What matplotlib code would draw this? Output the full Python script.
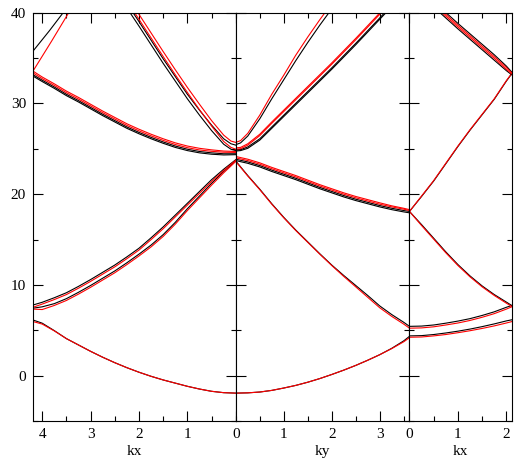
import matplotlib
matplotlib.use("Agg")
import matplotlib.pyplot as plt
from matplotlib.ticker import MultipleLocator

plt.rcParams['font.family'] = ['Liberation Serif', 'DejaVu Serif']

# ---------------- left panel: kx, drawn from 4.19 (left) to 0 (Gamma) ----------------
kx_left = [0, 0.25, 0.5, 0.75, 1.0, 1.25, 1.5, 1.75, 2.0, 2.25, 2.5, 2.75, 3.0, 3.25, 3.5, 3.75, 4.0, 4.19]

left_low_black = [-1.9, -1.85, -1.7, -1.45, -1.15, -0.8, -0.45, -0.05, 0.4, 0.9, 1.45, 2.05, 2.7, 3.4, 4.1, 4.98, 5.8, 6.15]
left_low_red = [-1.9, -1.85, -1.7, -1.45, -1.15, -0.8, -0.45, -0.05, 0.4, 0.9, 1.45, 2.05, 2.7, 3.4, 4.1, 4.95, 5.7, 5.98]

left_a_black = [23.8, 22.75, 21.6, 20.3, 19.0, 17.7, 16.4, 15.2, 14.05, 13.1, 12.2, 11.4, 10.6, 9.85, 9.15, 8.6, 8.1, 7.8]
left_a_red = [23.75, 22.6, 21.4, 20.1, 18.8, 17.5, 16.2, 15.0, 13.85, 12.9, 12.0, 11.2, 10.4, 9.65, 8.95, 8.4, 7.9, 7.55]
left_b_black = [23.7, 22.5, 21.2, 19.8, 18.4, 16.9, 15.55, 14.4, 13.4, 12.45, 11.55, 10.75, 9.95, 9.2, 8.5, 7.95, 7.6, 7.45]
left_b_red = [23.6, 22.35, 21.0, 19.6, 18.2, 16.7, 15.35, 14.2, 13.2, 12.25, 11.35, 10.55, 9.75, 9.0, 8.3, 7.75, 7.3, 7.35]

left_c_red1 = [24.7, 24.75, 24.88, 25.05, 25.3, 25.65, 26.1, 26.6, 27.15, 27.75, 28.45, 29.15, 29.9, 30.65, 31.35, 32.15, 32.9, 33.55]
left_c_red2 = [24.6, 24.62, 24.72, 24.87, 25.12, 25.47, 25.92, 26.42, 26.97, 27.57, 28.27, 28.97, 29.72, 30.47, 31.17, 31.97, 32.72, 33.35]
left_c_black1 = [24.45, 24.45, 24.55, 24.7, 24.95, 25.3, 25.75, 26.25, 26.8, 27.4, 28.1, 28.8, 29.55, 30.3, 31.0, 31.8, 32.55, 33.15]
left_c_black2 = [24.35, 24.32, 24.4, 24.55, 24.8, 25.15, 25.6, 26.1, 26.65, 27.25, 27.95, 28.65, 29.4, 30.15, 30.85, 31.65, 32.4, 33.0]

kx_left_up = [0, 0.1, 0.25, 0.5, 0.75, 1.0, 1.25, 1.5, 1.75, 2.0, 2.25]
left_up_red1 = [25.7, 25.85, 26.5, 28.1, 29.9, 31.75, 33.7, 35.7, 37.75, 39.8, 41.8]
left_up_black1 = [25.4, 25.55, 26.1, 27.6, 29.25, 31.0, 32.95, 34.9, 36.95, 39.0, 41.0]
left_up_red2 = [24.95, 25.15, 25.8, 27.5, 29.3, 31.2, 33.15, 35.15, 37.2, 39.25, 41.3]
left_up_black2 = [24.8, 24.95, 25.5, 27.0, 28.7, 30.5, 32.45, 34.4, 36.45, 38.5, 40.5]

kx_edge_red = [4.19, 3.8, 3.45]
edge_red = [33.55, 36.9, 40.0]
kx_edge_black = [4.19, 3.85, 3.55]
edge_black = [35.75, 38.0, 40.1]

# ---------------- middle panel: ky from 0 (Gamma) to 3.62 ----------------
ky_mid = [0, 0.25, 0.5, 0.75, 1.0, 1.25, 1.5, 1.75, 2.0, 2.25, 2.5, 2.75, 3.0, 3.25, 3.5, 3.62]

mid_low_black = [-1.9, -1.87, -1.78, -1.6, -1.34, -1.05, -0.7, -0.3, 0.15, 0.63, 1.15, 1.72, 2.33, 3.03, 3.85, 4.35]
mid_low_red = [-1.9, -1.87, -1.78, -1.6, -1.34, -1.05, -0.7, -0.3, 0.15, 0.63, 1.15, 1.72, 2.33, 3.0, 3.75, 4.2]

mid_down_black = [23.65, 22.05, 20.55, 18.95, 17.45, 16.05, 14.75, 13.45, 12.2, 11.05, 9.95, 8.85, 7.7, 6.75, 5.9, 5.45]
mid_down_red = [23.6, 22.0, 20.5, 18.9, 17.4, 16.0, 14.7, 13.4, 12.15, 10.95, 9.8, 8.65, 7.5, 6.55, 5.7, 5.25]

mid_c_red1 = [24.15, 23.85, 23.45, 22.95, 22.5, 22.05, 21.55, 21.05, 20.6, 20.15, 19.75, 19.4, 19.05, 18.72, 18.45, 18.3]
mid_c_red2 = [24.0, 23.7, 23.3, 22.8, 22.35, 21.9, 21.4, 20.9, 20.45, 20.0, 19.6, 19.25, 18.9, 18.6, 18.35, 18.2]
mid_c_black1 = [23.85, 23.55, 23.15, 22.65, 22.2, 21.75, 21.25, 20.75, 20.3, 19.85, 19.45, 19.1, 18.75, 18.45, 18.2, 18.1]
mid_c_black2 = [23.7, 23.4, 23.0, 22.5, 22.05, 21.6, 21.1, 20.6, 20.15, 19.7, 19.3, 18.95, 18.6, 18.3, 18.05, 17.95]

ky_steep = [0, 0.1, 0.25, 0.5, 0.75, 1.0, 1.25, 1.5, 1.75, 2.0]
mid_steep_red = [25.7, 25.9, 26.7, 28.7, 31.0, 33.1, 35.3, 37.3, 39.2, 41.0]
mid_steep_black = [25.45, 25.65, 26.4, 28.3, 30.5, 32.6, 34.7, 36.7, 38.6, 40.4]

ky_up = [0, 0.1, 0.25, 0.5, 0.75, 1.0, 1.25, 1.5, 1.75, 2.0, 2.25, 2.5, 2.75, 3.0, 3.25]
mid_up_red1 = [25.1, 25.15, 25.55, 26.6, 27.95, 29.25, 30.55, 31.85, 33.15, 34.45, 35.8, 37.15, 38.55, 39.95, 41.35]
mid_up_red2 = [24.95, 25.0, 25.4, 26.45, 27.8, 29.1, 30.4, 31.7, 33.0, 34.3, 35.65, 37.0, 38.4, 39.8, 41.2]
mid_up_black1 = [24.85, 24.9, 25.2, 26.1, 27.4, 28.7, 30.0, 31.3, 32.6, 33.9, 35.25, 36.6, 38.0, 39.4, 40.8]
mid_up_black2 = [24.75, 24.8, 25.05, 25.95, 27.25, 28.55, 29.85, 31.15, 32.45, 33.75, 35.1, 36.45, 37.85, 39.25, 40.65]

# ---------------- right panel: kx from 0 to 2.11 ----------------
kx_right = [0, 0.25, 0.5, 0.75, 1.0, 1.25, 1.5, 1.75, 2.0, 2.11]

right_low_black = [4.4, 4.43, 4.55, 4.72, 4.92, 5.15, 5.42, 5.72, 6.05, 6.17]
right_low_red = [4.25, 4.28, 4.4, 4.55, 4.75, 4.97, 5.22, 5.5, 5.82, 5.97]
right_mid_black = [5.45, 5.48, 5.6, 5.8, 6.03, 6.3, 6.65, 7.05, 7.55, 7.75]
right_mid_red = [5.25, 5.28, 5.4, 5.6, 5.82, 6.1, 6.45, 6.85, 7.35, 7.6]
right_down_black = [18.1, 16.65, 15.15, 13.65, 12.25, 11.0, 9.9, 8.95, 8.12, 7.75]
right_down_red = [18.1, 16.55, 15.05, 13.55, 12.15, 10.9, 9.8, 8.85, 8.0, 7.65]
right_up_black = [18.1, 19.75, 21.45, 23.35, 25.25, 27.05, 28.75, 30.45, 32.45, 33.25]
right_up_red = [18.1, 19.8, 21.5, 23.4, 25.3, 27.1, 28.8, 30.5, 32.5, 33.3]

kx_right_top = [0.5, 0.75, 1.0, 1.25, 1.5, 1.75, 2.0, 2.11]
right_top_black1 = [40.6, 39.4, 38.2, 37.05, 35.9, 34.75, 33.6, 33.15]
right_top_red1 = [40.8, 39.6, 38.4, 37.25, 36.1, 34.95, 33.75, 33.25]
right_top_red2 = [41.0, 39.8, 38.6, 37.45, 36.3, 35.15, 33.95, 33.35]
right_top_black2 = [41.2, 40.0, 38.8, 37.65, 36.5, 35.35, 34.1, 33.45]

fig = plt.figure(figsize=(5.23, 4.67), dpi=100)
gs = fig.add_gridspec(1, 3, width_ratios=[202.7, 173.6, 102.2], wspace=0,
                      left=0.0631, right=0.9784, bottom=0.0979, top=0.9732)
ax1 = fig.add_subplot(gs[0])
ax2 = fig.add_subplot(gs[1], sharey=ax1)
ax3 = fig.add_subplot(gs[2], sharey=ax1)

lw = 0.8
k, r = 'black', 'red'

# black first, red drawn over it
for y in [left_low_black, left_a_black, left_b_black, left_c_black1, left_c_black2]:
    ax1.plot(kx_left, y, color=k, lw=lw)
for y in [left_low_red, left_a_red, left_b_red, left_c_red1, left_c_red2]:
    ax1.plot(kx_left, y, color=r, lw=lw)
ax1.plot(kx_left_up, left_up_black1, color=k, lw=lw)
ax1.plot(kx_left_up, left_up_black2, color=k, lw=lw)
ax1.plot(kx_left_up, left_up_red1, color=r, lw=lw)
ax1.plot(kx_left_up, left_up_red2, color=r, lw=lw)
ax1.plot(kx_edge_black, edge_black, color=k, lw=lw)
ax1.plot(kx_edge_red, edge_red, color=r, lw=lw)

for y in [mid_low_black, mid_down_black, mid_c_black1, mid_c_black2]:
    ax2.plot(ky_mid, y, color=k, lw=lw)
for y in [mid_low_red, mid_down_red, mid_c_red1, mid_c_red2]:
    ax2.plot(ky_mid, y, color=r, lw=lw)
ax2.plot(ky_steep, mid_steep_black, color=k, lw=lw)
ax2.plot(ky_steep, mid_steep_red, color=r, lw=lw)
ax2.plot(ky_up, mid_up_black1, color=k, lw=lw)
ax2.plot(ky_up, mid_up_black2, color=k, lw=lw)
ax2.plot(ky_up, mid_up_red1, color=r, lw=lw)
ax2.plot(ky_up, mid_up_red2, color=r, lw=lw)

for y in [right_low_black, right_mid_black, right_down_black, right_up_black]:
    ax3.plot(kx_right, y, color=k, lw=lw)
for y in [right_low_red, right_mid_red, right_down_red, right_up_red]:
    ax3.plot(kx_right, y, color=r, lw=lw)
ax3.plot(kx_right_top, right_top_black1, color=k, lw=lw)
ax3.plot(kx_right_top, right_top_black2, color=k, lw=lw)
ax3.plot(kx_right_top, right_top_red1, color=r, lw=lw)
ax3.plot(kx_right_top, right_top_red2, color=r, lw=lw)

ax1.set_xlim(4.19, 0)
ax2.set_xlim(0, 3.62)
ax3.set_xlim(0, 2.11)
ax1.set_ylim(-5, 40)
ax1.set_xticks([4, 3, 2, 1, 0])
ax2.set_xticks([1, 2, 3])
ax3.set_xticks([0, 1, 2])
ax1.set_yticks([0, 10, 20, 30, 40])

for ax, lab in zip([ax1, ax2, ax3], ['kx', 'ky', 'kx']):
    ax.xaxis.set_minor_locator(MultipleLocator(0.5))
    ax.yaxis.set_minor_locator(MultipleLocator(5))
    ax.tick_params(which='both', direction='in', top=True, right=True, width=0.8, labelsize=11)
    ax.tick_params(which='major', length=7)
    ax.tick_params(which='minor', length=3.6)
    ax.tick_params(axis='x', pad=4.5)
    ax.tick_params(axis='y', pad=5)
    for s in ax.spines.values():
        s.set_linewidth(0.8)
    ax.set_xlabel(lab, fontsize=11, labelpad=3)
ax2.tick_params(labelleft=False)
ax3.tick_params(labelleft=False)

fig.savefig('out.png', dpi=100)
